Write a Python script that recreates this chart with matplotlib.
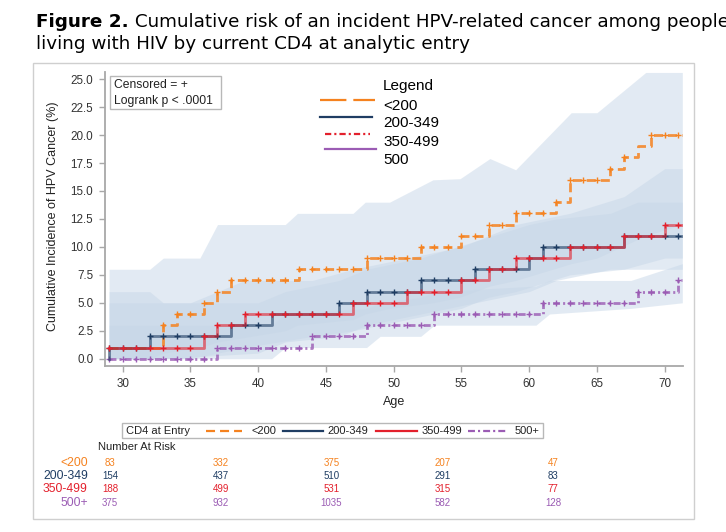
import numpy as np
import matplotlib
matplotlib.use("Agg")
import matplotlib.pyplot as plt
from matplotlib.lines import Line2D
from matplotlib.patches import Rectangle
from matplotlib.ticker import FormatStrFormatter

W, H = 726, 532

groups = ["<200", "200-349", "350-499", "500+"]
colors = ["#f5821f", "#1f3d63", "#e3202c", "#9b5cb4"]

# Kaplan-Meier type curves: age of each step and the level after it (%)
lt200_age = [29, 33, 34, 36, 37, 38, 43, 48, 52, 55, 57, 59, 62, 63, 66, 67, 68, 69]
lt200_val = [1, 3, 4, 5, 6, 7, 8, 9, 10, 11, 12, 13, 14, 16, 17, 18, 19, 20]
mid_age = [29, 29, 32, 38, 41, 46, 48, 52, 56, 60, 61, 67]
mid_val = [0, 1, 2, 3, 4, 5, 6, 7, 8, 9, 10, 11]
high_age = [29, 36, 37, 39, 47, 51, 55, 57, 59, 63, 67, 70]
high_val = [1, 2, 3, 4, 5, 6, 7, 8, 9, 10, 11, 12]
top_age = [29, 37, 44, 48, 53, 61, 68, 71]
top_val = [0, 1, 2, 3, 4, 5, 6, 7]
end_age = 71.3

# censoring times (+ marks)
cens_lt200 = [33, 34, 35, 36, 37, 38, 39, 40, 41, 42, 43, 44, 45, 46, 47, 48, 49, 50, 51, 52,
              53, 54, 55, 56, 57, 58, 59, 60, 61, 62, 63, 64, 65, 66, 67, 69, 70, 71]
cens_other = [29, 30, 31, 32, 33, 34, 35, 36, 37, 38, 39, 40, 41, 42, 43, 44, 45, 46, 47, 48,
              49, 50, 51, 52, 53, 54, 55, 56, 57, 58, 59, 60, 61, 62, 63, 64, 65, 66, 67, 68,
              69, 70, 71]

# confidence bands (age, lower, upper)
band_lt200_age = [29, 32, 33, 35.7, 37, 42, 42.9, 47, 47.9, 49.7, 52.9, 54.9, 57.1, 59, 63.1, 65, 68.6, 71.3]
band_lt200_lo = [0, 0, 0.5, 1, 1.5, 2.5, 3, 3.5, 4, 4.5, 5, 5.5, 6.5, 7, 8.5, 9, 11, 12]
band_lt200_hi = [8, 8, 9, 9, 12, 12, 13, 13, 14, 14, 16, 16.1, 17.9, 16.9, 22, 22, 25.6, 25.6]
band_mid_age = [29, 32, 33, 40, 42, 46, 48, 52, 56, 60, 62, 66, 68, 71.3]
band_mid_lo = [0, 0, 0, 0.5, 1.5, 2, 3, 4, 5, 6, 7, 8, 8, 8]
band_mid_hi = [6, 6, 5, 5, 6, 7, 8, 9, 10.5, 12, 12.5, 13, 14, 14]
band_high_age = [29, 35, 37, 39, 44, 47, 51, 55, 57, 59, 63, 67, 70, 71.3]
band_high_lo = [0, 0, 0.5, 1, 2, 2.5, 3.5, 4.5, 5.5, 6, 7.5, 8, 9, 9]
band_high_hi = [5, 5, 6, 7, 7, 8, 9, 10, 11, 12, 13, 14.5, 17, 17]
band_top_age = [29, 41, 42, 48, 49, 52, 53, 60.5, 61.5, 67.5, 71.3]
band_top_lo = [0, 0, 1, 1, 2, 2, 3, 3, 4, 4.5, 5]
band_top_hi = [3, 3, 4, 4.5, 5, 5.5, 6, 6.5, 7, 7, 8.5]

# number at risk
risk_ages = [30, 40, 50, 60, 70]
risk_lt200 = [83, 332, 375, 207, 47]
risk_mid = [154, 437, 510, 291, 83]
risk_high = [188, 499, 531, 315, 77]
risk_top = [375, 932, 1035, 582, 128]

plt.rcParams["font.family"] = ["Liberation Sans", "DejaVu Sans"]
plt.rcParams["lines.scale_dashes"] = False


def px(x, y):
    return x / W, 1 - y / H


def step_level(ages, vals, t):
    i = np.searchsorted(ages, t, side="right") - 1
    return vals[i]


fig = plt.figure(figsize=(W / 100, H / 100), dpi=100)

# title
t1 = fig.text(*px(36, 27), "Figure 2.", fontsize=13.25, weight="bold",
              family="DejaVu Sans", va="baseline", color="black")
bb = t1.get_window_extent(fig.canvas.get_renderer())
fig.text(bb.x1 / W, 1 - 27 / H, " Cumulative risk of an incident HPV-related cancer among people",
         fontsize=13.25, family="DejaVu Sans", va="baseline", color="black")
fig.text(*px(36, 49), "living with HIV by current CD4 at analytic entry",
         fontsize=13.25, family="DejaVu Sans", va="baseline", color="black")

# outer frame
fig.add_artist(Rectangle(px(33, 519), (694 - 33) / W, (519 - 63) / H, transform=fig.transFigure,
                         fill=False, ec="#cfcfcf", lw=1))

ax = fig.add_axes([105 / W, 1 - 366 / H, (683 - 105) / W, (366 - 72) / H])
ax.set_xlim(28.7, 71.35)
ax.set_ylim(-0.65, 25.64)

for a, lo, hi in [(band_lt200_age, band_lt200_lo, band_lt200_hi),
                  (band_mid_age, band_mid_lo, band_mid_hi),
                  (band_high_age, band_high_lo, band_high_hi),
                  (band_top_age, band_top_lo, band_top_hi)]:
    ax.fill_between(a, lo, hi, color="#c7d7e8", alpha=0.5, lw=0, zorder=1)

curves = [
    (top_age, top_val, cens_other, colors[3], (5, 2.2, 1.5, 2.2), 0.8),
    (lt200_age, lt200_val, cens_lt200, colors[0], (6.5, 3.6), 0.85),
    (mid_age, mid_val, cens_other, colors[1], None, 0.6),
    (high_age, high_val, cens_other, colors[2], None, 0.6),
]
for i, (a, v, cens, c, dash, al) in enumerate(curves):
    xs = list(a) + [end_age]
    ys = list(v) + [v[-1]]
    ln, = ax.step(xs, ys, where="post", color=c, lw=2.0, alpha=al, zorder=3 + i)
    if dash:
        ln.set_dashes(dash)
    cy = [step_level(a, v, t) for t in cens]
    ax.plot(cens, cy, ls="none", marker="+", ms=5, mew=1.0, color=c, zorder=3.5 + i)

for s in ["top", "right"]:
    ax.spines[s].set_visible(False)
for s in ["left", "bottom"]:
    ax.spines[s].set_color("#a8a8a8")
    ax.spines[s].set_linewidth(1.3)
ax.set_xticks([30, 35, 40, 45, 50, 55, 60, 65, 70])
ax.set_yticks([0, 2.5, 5, 7.5, 10, 12.5, 15, 17.5, 20, 22.5, 25])
ax.yaxis.set_major_formatter(FormatStrFormatter("%.1f"))
ax.tick_params(axis="both", colors="#a8a8a8", labelcolor="#333333", labelsize=8.4,
               length=4.5, width=1, pad=4)
ax.set_ylabel("Cumulative Incidence of HPV Cancer (%)", fontsize=9, color="#222222")
ax.yaxis.set_label_coords((59 - 105) / 578, 0.51)
ax.set_xlabel("Age", fontsize=9, color="#222222")
ax.xaxis.set_label_coords(0.5, (366 - 396) / 294)

# censored / logrank box
fig.add_artist(Rectangle(px(110, 109), 111 / W, 33 / H, transform=fig.transFigure,
                         fc="white", ec="#b8b8b8", lw=1, zorder=10))
fig.text(*px(114, 85.5), "Censored = +", fontsize=8.7, va="center", color="#222222", zorder=11)
fig.text(*px(114, 101), "Logrank p < .0001", fontsize=8.7, va="center", color="#222222", zorder=11)

# legend drawn inside the plot
top_legend = [(100, 320, 375, colors[0], (19, 5)),
              (117, 320, 372, colors[1], None),
              (134, 325, 370, colors[2], (4.5, 2.2, 1.5, 2.2)),
              (149, 325, 376, colors[3], None)]
for y, x0, x1, c, dash in top_legend:
    ln = Line2D([x0 / W, x1 / W], [1 - y / H] * 2, transform=fig.transFigure, color=c, lw=1.6)
    if dash:
        ln.set_dashes(dash)
    fig.add_artist(ln)
for y, s in zip([86, 105.5, 123, 142, 160], ["Legend", "<200", "200-349", "350-499", "500"]):
    fig.text(*px(383, y), s, fontsize=11, va="center", color="black")

# bottom legend
fig.add_artist(Rectangle(px(122, 438), 421 / W, 15 / H, transform=fig.transFigure,
                         fill=False, ec="#b8b8b8", lw=1))
ly = 430.5
fig.text(*px(126, ly), "CD4 at Entry", fontsize=8, va="center", color="#222222")
bottom_legend = [(206, 242, 251, colors[0], (6.5, 3.6)),
                 (283, 323, 327, colors[1], None),
                 (376, 417, 422, colors[2], None),
                 (468, 507, 515, colors[3], (5, 2.2, 1.5, 2.2))]
for (x0, x1, tx, c, dash), g in zip(bottom_legend, groups):
    ln = Line2D([x0 / W, x1 / W], [1 - ly / H] * 2, transform=fig.transFigure, color=c, lw=1.6)
    if dash:
        ln.set_dashes(dash)
    fig.add_artist(ln)
    fig.text(*px(tx, ly), g, fontsize=8, va="center", color="#222222")

# number at risk table
fig.text(*px(98, 446.5), "Number At Risk", fontsize=8, va="center", color="#222222")
axr = fig.add_axes([110 / W, 1 - 509.3 / H, (553 - 110) / W, (509.3 - 456.3) / H])
axr.set_xlim(30, 70)
axr.set_ylim(3.5, -0.5)
axr.axis("off")
for row, (g, c, vals) in enumerate(zip(groups, colors, [risk_lt200, risk_mid, risk_high, risk_top])):
    axr.text(28.0, row, g, fontsize=8.7, color=c, ha="right", va="center", clip_on=False)
    for a, n in zip(risk_ages, vals):
        axr.text(a, row, str(n), fontsize=7, color=c, ha="center", va="center")

fig.savefig("out.png", dpi=100)
